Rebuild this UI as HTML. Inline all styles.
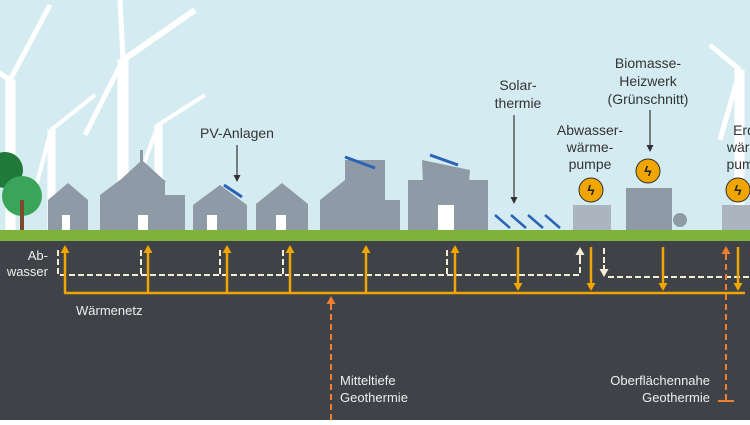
<!DOCTYPE html>
<html><head><meta charset="utf-8"><style>
html,body{margin:0;padding:0}
body{width:750px;height:420px;overflow:hidden;font-family:"Liberation Sans",sans-serif}
</style></head><body>
<svg width="750" height="420" viewBox="0 0 750 420" xmlns="http://www.w3.org/2000/svg" font-family="Liberation Sans, sans-serif">
<defs>
<marker id="ao" markerUnits="userSpaceOnUse" markerWidth="9" markerHeight="9" refX="6" refY="4.5" orient="auto"><path d="M0,0 L8,4.5 L0,9 z" fill="#f0a500"/></marker>
<marker id="aw" markerUnits="userSpaceOnUse" markerWidth="9" markerHeight="9" refX="6" refY="4.5" orient="auto"><path d="M0,0 L8,4.5 L0,9 z" fill="#f3ecd6"/></marker>
<marker id="ar" markerUnits="userSpaceOnUse" markerWidth="9" markerHeight="9" refX="6" refY="4.5" orient="auto"><path d="M0,0 L8,4.5 L0,9 z" fill="#f07f30"/></marker>
<marker id="ak" markerUnits="userSpaceOnUse" markerWidth="7" markerHeight="7" refX="5" refY="3.5" orient="auto"><path d="M0,0 L7,3.5 L0,7 z" fill="#333"/></marker>
</defs>
<rect width="750" height="420" fill="#d4ecf1"/>
<g stroke="#fff" fill="#fff">
<rect x="6" y="80" width="9" height="160"/><line x1="10" y1="80" x2="50" y2="5" stroke-width="5"/><line x1="10" y1="80" x2="-20" y2="60" stroke-width="5"/>
<rect x="118" y="60" width="10" height="180"/><line x1="123" y1="60" x2="195" y2="10" stroke-width="6"/><line x1="123" y1="60" x2="120" y2="0" stroke-width="5"/><line x1="123" y1="60" x2="85" y2="135" stroke-width="5"/>
<rect x="48" y="130" width="7" height="110"/><line x1="51" y1="130" x2="95" y2="95" stroke-width="4"/><line x1="51" y1="130" x2="35" y2="190" stroke-width="4"/>
<rect x="155" y="125" width="7" height="115"/><line x1="158" y1="125" x2="205" y2="95" stroke-width="4"/><line x1="158" y1="125" x2="140" y2="175" stroke-width="4"/>
<rect x="735" y="70" width="9" height="170"/><line x1="740" y1="70" x2="710" y2="45" stroke-width="5"/><line x1="740" y1="70" x2="720" y2="140" stroke-width="5"/>
</g>
<circle cx="5" cy="170" r="18" fill="#1f7a3a"/>
<circle cx="22" cy="196" r="20" fill="#3aa55a"/>
<rect x="20" y="200" width="4" height="32" fill="#7a4a2a"/>
<g fill="#8e9aa6">
<path d="M48,200 L68,183 L88,200 L88,232 L48,232z"/>
<path d="M100,195 L120,180 L120,232 L100,232z"/><rect x="120" y="180" width="45" height="52"/><path d="M118,182 L142,160 L166,182z"/><rect x="140" y="150" width="3" height="12"/><path d="M165,195 L185,195 L185,232 L165,232z"/>
<path d="M193,205 L220,185 L247,205 L247,232 L193,232z"/>
<path d="M256,204 L282,183 L308,204 L308,232 L256,232z"/>
<path d="M320,200 L345,180 L370,200 L370,232 L320,232z"/><rect x="345" y="160" width="40" height="72"/><rect x="370" y="200" width="30" height="32"/>
<rect x="408" y="180" width="28" height="52"/><path d="M422,160 L470,170 L465,232 L425,232z"/><rect x="462" y="180" width="26" height="52"/>
<rect x="626" y="188" width="46" height="44"/>
</g>
<g fill="#fff"><rect x="62" y="215" width="8" height="17"/><rect x="138" y="215" width="10" height="17"/><rect x="207" y="215" width="10" height="17"/><rect x="276" y="215" width="10" height="17"/><rect x="438" y="205" width="16" height="27"/></g>
<g stroke="#2a62b8" stroke-width="3"><line x1="224" y1="185" x2="242" y2="197"/><line x1="345" y1="157" x2="375" y2="168"/><line x1="430" y1="155" x2="458" y2="165"/></g>
<g stroke="#2a62b8" stroke-width="2.5"><line x1="495" y1="215" x2="510" y2="228"/><line x1="511" y1="215" x2="526" y2="228"/><line x1="528" y1="215" x2="543" y2="228"/><line x1="545" y1="215" x2="560" y2="228"/></g>
<rect x="573" y="205" width="38" height="25" fill="#aab5bf"/><rect x="722" y="205" width="30" height="25" fill="#aab5bf"/>
<g fill="#8e9aa6"><circle cx="660" cy="222" r="10"/><circle cx="680" cy="220" r="7"/></g>
<g><circle cx="591" cy="190" r="12" fill="#f0a500" stroke="#333"/><circle cx="648" cy="171" r="12" fill="#f0a500" stroke="#333"/><circle cx="738" cy="190" r="12" fill="#f0a500" stroke="#333"/>
<g fill="#222" font-size="14" font-weight="bold" text-anchor="middle"><text x="591" y="195">ϟ</text><text x="648" y="176">ϟ</text><text x="738" y="195">ϟ</text></g></g>
<rect x="0" y="230" width="750" height="11" fill="#7fb13d"/>
<rect x="0" y="241" width="750" height="179" fill="#3f4247"/>
<g fill="#333" font-size="14" text-anchor="middle">
<text x="237" y="138">PV-Anlagen</text>
<text x="518" y="90">Solar-</text><text x="518" y="108">thermie</text>
<text x="590" y="135">Abwasser-</text><text x="590" y="152">wärme-</text><text x="590" y="169">pumpe</text>
<text x="648" y="68">Biomasse-</text><text x="648" y="86">Heizwerk</text><text x="648" y="104">(Grünschnitt)</text>
<text x="744" y="135">Erd</text><text x="744" y="152">wärm</text><text x="744" y="169">pump</text>
</g>
<g stroke="#333" stroke-width="1.2"><line x1="237" y1="145" x2="237" y2="180" marker-end="url(#ak)"/><line x1="514" y1="115" x2="514" y2="202" marker-end="url(#ak)"/><line x1="650" y1="110" x2="650" y2="150" marker-end="url(#ak)"/></g>
<g fill="#eee" font-size="13"><text x="48" y="260" text-anchor="end">Ab-</text><text x="48" y="276" text-anchor="end">wasser</text><text x="76" y="315">Wärmenetz</text>
<text x="340" y="385">Mitteltiefe</text><text x="340" y="402">Geothermie</text>
<text x="710" y="385" text-anchor="end">Oberflächennahe</text><text x="710" y="402" text-anchor="end">Geothermie</text></g>
<g stroke="#f3ecd6" stroke-width="2" fill="none" stroke-dasharray="6,3">
<path d="M58,250 V275 H580 V256"/><path d="M141,250 V275 M220,250 V275 M283,250 V275 M447,250 V275"/>
<path d="M604,248 V268 M608,277 H750" />
</g>
<line x1="580" y1="262" x2="580" y2="249" stroke="#f3ecd6" stroke-width="2" marker-end="url(#aw)"/>
<line x1="604" y1="265" x2="604" y2="275" stroke="#f3ecd6" stroke-width="2" marker-end="url(#aw)"/>
<g stroke="#f0a500" stroke-width="2.5" fill="none">
<line x1="64" y1="293" x2="745" y2="293"/>
<line x1="65" y1="293" x2="65" y2="247" marker-end="url(#ao)"/><line x1="148" y1="293" x2="148" y2="247" marker-end="url(#ao)"/><line x1="227" y1="293" x2="227" y2="247" marker-end="url(#ao)"/><line x1="290" y1="293" x2="290" y2="247" marker-end="url(#ao)"/><line x1="366" y1="293" x2="366" y2="247" marker-end="url(#ao)"/><line x1="455" y1="293" x2="455" y2="247" marker-end="url(#ao)"/>
<line x1="518" y1="247" x2="518" y2="289" marker-end="url(#ao)"/><line x1="591" y1="247" x2="591" y2="289" marker-end="url(#ao)"/><line x1="663" y1="247" x2="663" y2="289" marker-end="url(#ao)"/><line x1="738" y1="247" x2="738" y2="289" marker-end="url(#ao)"/>
</g>
<g stroke="#f07f30" stroke-width="2" fill="none">
<line x1="331" y1="420" x2="331" y2="298" stroke-dasharray="6,4" marker-end="url(#ar)"/>
<line x1="726" y1="400" x2="726" y2="248" stroke-dasharray="6,4" marker-end="url(#ar)"/>
<line x1="718" y1="401" x2="734" y2="401"/>
</g>
</svg>
</body></html>
